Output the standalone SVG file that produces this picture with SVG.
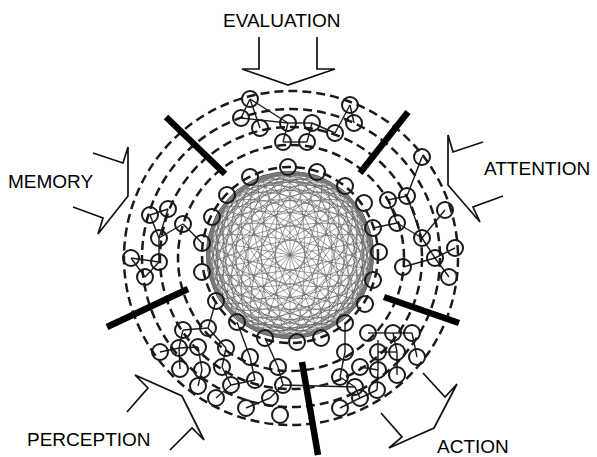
<svg xmlns="http://www.w3.org/2000/svg" xmlns:xlink="http://www.w3.org/1999/xlink" width="597" height="457" viewBox="0 0 597 457">
<style>
.lbl{font-family:"Liberation Sans",Arial,sans-serif;font-size:19px;fill:#000}
.arrow{fill:none;stroke:#111;stroke-width:1.7;stroke-linejoin:miter}
.ring{fill:none;stroke:#1a1a1a;stroke-width:2.5;stroke-dasharray:9 5}
.bar{stroke:#000;stroke-width:6.5}
.edge{stroke:#1a1a1a;stroke-width:1.4}
.node circle{fill:none;stroke:#1a1a1a;stroke-width:2}
.mesh{fill:none;stroke:#5a5a5a;stroke-width:0.55}
</style>
<defs>
<clipPath id="sphereClip"><circle cx="290" cy="255" r="84"/></clipPath>
<g id="fam" class="mesh">
<line x1="0" y1="-84" x2="0" y2="84"/>
<ellipse cx="0" cy="0" rx="14.6" ry="84"/>
<ellipse cx="0" cy="0" rx="28.7" ry="84"/>
<ellipse cx="0" cy="0" rx="42" ry="84"/>
<ellipse cx="0" cy="0" rx="54" ry="84"/>
<ellipse cx="0" cy="0" rx="64.3" ry="84"/>
<ellipse cx="0" cy="0" rx="72.7" ry="84"/>
</g>
</defs>
<rect width="597" height="457" fill="#fff"/>

<g id="rings">
<circle class="ring" cx="291" cy="258" r="113"/>
<circle class="ring" cx="291" cy="258" r="131"/>
<circle class="ring" cx="291" cy="258" r="149"/>
<circle class="ring" cx="291" cy="258" r="167"/>
<circle class="ring" cx="290" cy="255" r="88"/>
</g>

<g id="sphere" clip-path="url(#sphereClip)">
<use xlink:href="#fam" href="#fam" transform="translate(290,255) rotate(0)"/>
<use xlink:href="#fam" href="#fam" transform="translate(290,255) rotate(20)"/>
<use xlink:href="#fam" href="#fam" transform="translate(290,255) rotate(40)"/>
<use xlink:href="#fam" href="#fam" transform="translate(290,255) rotate(60)"/>
<use xlink:href="#fam" href="#fam" transform="translate(290,255) rotate(80)"/>
<use xlink:href="#fam" href="#fam" transform="translate(290,255) rotate(100)"/>
<use xlink:href="#fam" href="#fam" transform="translate(290,255) rotate(120)"/>
<use xlink:href="#fam" href="#fam" transform="translate(290,255) rotate(140)"/>
<use xlink:href="#fam" href="#fam" transform="translate(290,255) rotate(160)"/>
<circle cx="290" cy="255" r="81" fill="none" stroke="#777" stroke-width="3"/>
</g>

<g id="connectors">
<line class="edge" x1="250" y1="99" x2="260" y2="128"/>
<line class="edge" x1="250" y1="99" x2="288" y2="123"/>
<line class="edge" x1="250" y1="99" x2="241" y2="118"/>
<line class="edge" x1="241" y1="118" x2="288" y2="123"/>
<line class="edge" x1="288" y1="123" x2="283" y2="142"/>
<line class="edge" x1="283" y1="142" x2="307" y2="142"/>
<line class="edge" x1="307" y1="142" x2="312" y2="123"/>
<line class="edge" x1="288" y1="123" x2="312" y2="123"/>
<line class="edge" x1="312" y1="123" x2="335" y2="133"/>
<line class="edge" x1="335" y1="133" x2="350" y2="105"/>
<line class="edge" x1="350" y1="105" x2="354" y2="123"/>
<line class="edge" x1="150" y1="215" x2="168" y2="209"/>
<line class="edge" x1="168" y1="209" x2="159" y2="238"/>
<line class="edge" x1="150" y1="215" x2="159" y2="238"/>
<line class="edge" x1="159" y1="238" x2="183" y2="224"/>
<line class="edge" x1="183" y1="224" x2="202" y2="243"/>
<line class="edge" x1="159" y1="238" x2="159" y2="262"/>
<line class="edge" x1="131" y1="258" x2="159" y2="262"/>
<line class="edge" x1="131" y1="258" x2="145" y2="277"/>
<line class="edge" x1="145" y1="277" x2="159" y2="262"/>
<line class="edge" x1="422" y1="157" x2="407" y2="196"/>
<line class="edge" x1="388" y1="200" x2="407" y2="196"/>
<line class="edge" x1="388" y1="200" x2="397" y2="223"/>
<line class="edge" x1="373" y1="228" x2="397" y2="223"/>
<line class="edge" x1="397" y1="223" x2="422" y2="238"/>
<line class="edge" x1="407" y1="196" x2="422" y2="238"/>
<line class="edge" x1="445" y1="210" x2="422" y2="238"/>
<line class="edge" x1="422" y1="238" x2="435" y2="258"/>
<line class="edge" x1="435" y1="258" x2="455" y2="248"/>
<line class="edge" x1="435" y1="258" x2="449" y2="277"/>
<line class="edge" x1="403" y1="267" x2="435" y2="258"/>
<line class="edge" x1="216" y1="301" x2="208" y2="328"/>
<line class="edge" x1="183" y1="330" x2="208" y2="328"/>
<line class="edge" x1="183" y1="330" x2="179" y2="348"/>
<line class="edge" x1="179" y1="348" x2="180" y2="369"/>
<line class="edge" x1="160" y1="352" x2="179" y2="348"/>
<line class="edge" x1="179" y1="348" x2="198" y2="347"/>
<line class="edge" x1="198" y1="347" x2="202" y2="370"/>
<line class="edge" x1="202" y1="370" x2="198" y2="386"/>
<line class="edge" x1="208" y1="328" x2="226" y2="348"/>
<line class="edge" x1="237" y1="322" x2="250" y2="357"/>
<line class="edge" x1="250" y1="357" x2="255" y2="380"/>
<line class="edge" x1="226" y1="348" x2="222" y2="367"/>
<line class="edge" x1="265" y1="338" x2="278" y2="367"/>
<line class="edge" x1="278" y1="367" x2="283" y2="385"/>
<line class="edge" x1="283" y1="385" x2="270" y2="398"/>
<line class="edge" x1="270" y1="398" x2="246" y2="408"/>
<line class="edge" x1="222" y1="367" x2="231" y2="385"/>
<line class="edge" x1="231" y1="385" x2="255" y2="380"/>
<line class="edge" x1="216" y1="398" x2="231" y2="385"/>
<line class="edge" x1="283" y1="385" x2="355" y2="387"/>
<line class="edge" x1="368" y1="333" x2="393" y2="333"/>
<line class="edge" x1="393" y1="333" x2="412" y2="333"/>
<line class="edge" x1="412" y1="333" x2="417" y2="357"/>
<line class="edge" x1="378" y1="352" x2="397" y2="352"/>
<line class="edge" x1="393" y1="333" x2="397" y2="352"/>
<line class="edge" x1="397" y1="352" x2="397" y2="375"/>
<line class="edge" x1="378" y1="340" x2="378" y2="370"/>
<line class="edge" x1="378" y1="370" x2="377" y2="390"/>
<line class="edge" x1="345" y1="323" x2="345" y2="352"/>
<line class="edge" x1="345" y1="352" x2="340" y2="377"/>
<line class="edge" x1="340" y1="377" x2="355" y2="387"/>
<line class="edge" x1="355" y1="387" x2="360" y2="398"/>
<line class="edge" x1="360" y1="398" x2="340" y2="408"/>
<line class="edge" x1="377" y1="390" x2="360" y2="398"/>
<line class="edge" x1="360" y1="367" x2="378" y2="370"/>
</g>

<g id="nodes" class="node">
<circle cx="250" cy="177" r="8"/><circle cx="288" cy="167" r="8"/><circle cx="317" cy="172" r="8"/>
<circle cx="345" cy="186" r="8"/><circle cx="364" cy="203" r="8"/><circle cx="373" cy="228" r="8"/>
<circle cx="379" cy="252" r="8"/><circle cx="373" cy="280" r="8"/><circle cx="365" cy="304" r="8"/>
<circle cx="345" cy="323" r="8"/><circle cx="321" cy="338" r="8"/><circle cx="297" cy="342" r="8"/>
<circle cx="265" cy="338" r="8"/><circle cx="237" cy="322" r="8"/><circle cx="216" cy="301" r="8"/>
<circle cx="202" cy="272" r="8"/><circle cx="202" cy="243" r="8"/><circle cx="212" cy="217" r="8"/>
<circle cx="227" cy="195" r="8"/>
</g>
<g id="evaluation-nodes" class="node">
<circle cx="250" cy="99" r="8"/><circle cx="241" cy="118" r="8"/><circle cx="260" cy="128" r="8"/>
<circle cx="288" cy="123" r="8"/><circle cx="283" cy="142" r="8"/><circle cx="312" cy="123" r="8"/>
<circle cx="307" cy="142" r="8"/><circle cx="335" cy="133" r="8"/><circle cx="350" cy="105" r="8"/>
<circle cx="354" cy="123" r="8"/>
</g>
<g id="memory-nodes" class="node">
<circle cx="150" cy="215" r="8"/><circle cx="168" cy="209" r="8"/><circle cx="159" cy="238" r="8"/>
<circle cx="183" cy="224" r="8"/><circle cx="131" cy="258" r="8"/><circle cx="159" cy="262" r="8"/>
<circle cx="145" cy="277" r="8"/>
</g>
<g id="attention-nodes" class="node">
<circle cx="422" cy="157" r="8"/><circle cx="407" cy="196" r="8"/><circle cx="388" cy="200" r="8"/>
<circle cx="445" cy="210" r="8"/><circle cx="397" cy="223" r="8"/><circle cx="422" cy="238" r="8"/>
<circle cx="455" cy="248" r="8"/><circle cx="435" cy="258" r="8"/><circle cx="403" cy="267" r="8"/>
<circle cx="449" cy="277" r="8"/>
</g>
<g id="perception-nodes" class="node">
<circle cx="183" cy="330" r="8"/><circle cx="208" cy="328" r="8"/><circle cx="160" cy="352" r="8"/>
<circle cx="179" cy="348" r="8"/><circle cx="198" cy="347" r="8"/><circle cx="226" cy="348" r="8"/>
<circle cx="250" cy="357" r="8"/><circle cx="180" cy="369" r="8"/><circle cx="202" cy="370" r="8"/>
<circle cx="222" cy="367" r="8"/><circle cx="198" cy="386" r="8"/><circle cx="231" cy="385" r="8"/>
<circle cx="255" cy="380" r="8"/><circle cx="278" cy="367" r="8"/><circle cx="283" cy="385" r="8"/>
<circle cx="216" cy="398" r="8"/><circle cx="246" cy="408" r="8"/><circle cx="270" cy="398" r="8"/>
<circle cx="280" cy="415" r="8"/>
</g>
<g id="action-nodes" class="node">
<circle cx="368" cy="333" r="8"/><circle cx="393" cy="333" r="8"/><circle cx="412" cy="333" r="8"/>
<circle cx="378" cy="352" r="8"/><circle cx="397" cy="352" r="8"/><circle cx="417" cy="357" r="8"/>
<circle cx="345" cy="352" r="8"/><circle cx="360" cy="367" r="8"/><circle cx="378" cy="370" r="8"/>
<circle cx="397" cy="375" r="8"/><circle cx="340" cy="377" r="8"/><circle cx="355" cy="387" r="8"/>
<circle cx="377" cy="390" r="8"/><circle cx="360" cy="398" r="8"/><circle cx="340" cy="408" r="8"/>
</g>

<g id="bars">
<line class="bar" x1="166" y1="117" x2="225" y2="174"/>
<line class="bar" x1="408" y1="112" x2="360" y2="173"/>
<line class="bar" x1="384" y1="297" x2="459" y2="323"/>
<line class="bar" x1="302" y1="362" x2="318" y2="455"/>
<line class="bar" x1="107" y1="327" x2="188" y2="289"/>
</g>

<g id="evaluation">
<polyline class="arrow" points="259,37 259,69 242,69 288,85 335,69 317,69 317,37"/>
<text class="lbl" x="223" y="27">EVALUATION</text>
</g>
<g id="memory">
<polyline class="arrow" points="93,153 123,163 128,147 128,196 98,234 103,218 73,207"/>
<text class="lbl" x="8" y="188">MEMORY</text>
</g>
<g id="attention">
<polyline class="arrow" points="483,142 453,152 448,135 448,185 480,222 473,207 503,196"/>
<text class="lbl" x="484" y="175">ATTENTION</text>
</g>
<g id="perception">
<polyline class="arrow" points="127,412 148,388 135,375 182,396 204,440 192,428 170,450"/>
<text class="lbl" x="27" y="446">PERCEPTION</text>
</g>
<g id="action">
<polyline class="arrow" points="423,373 445,397 457,384 434,428 389,448 402,437 381,413"/>
<text class="lbl" x="437" y="453">ACTION</text>
</g>
</svg>
